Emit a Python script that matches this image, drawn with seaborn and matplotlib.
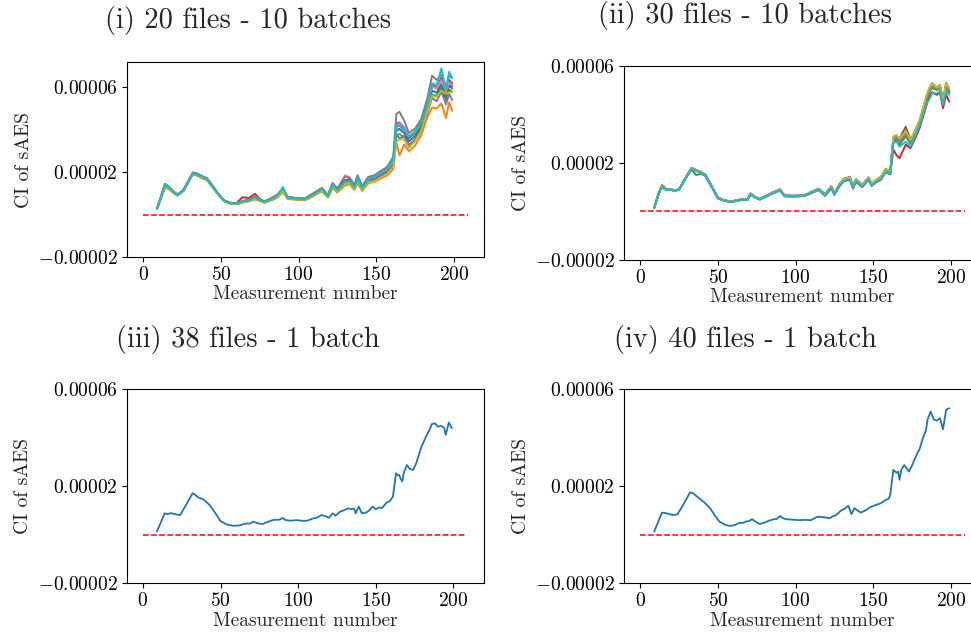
import numpy as np
import pandas as pd
import matplotlib
matplotlib.use("Agg")
import matplotlib.pyplot as plt
import seaborn as sns

SCALE = 1e-5  # values below are in units of 1e-5

# ---------------- data ----------------
titles = ["(i) 20 files - 10 batches", "(ii) 30 files - 10 batches",
          "(iii) 38 files - 1 batch", "(iv) 40 files - 1 batch"]

x_i = [9, 12, 14, 16, 19, 22, 26, 29, 32, 35, 38, 41, 44, 48, 52, 56, 60, 64, 68, 72,
       75, 78, 82, 86, 90, 93, 98, 104, 109, 115, 119, 122, 125, 130, 133, 136, 138, 141,
       145, 149, 153, 157, 161, 163, 165, 168, 171, 175, 179, 183, 186, 189, 192, 195, 197, 199]

panel_i = [
    [0.29, 0.93, 1.38, 1.29, 1.09, 0.91, 1.14, 1.55, 1.94, 1.87, 1.75, 1.67, 1.39, 0.99, 0.65, 0.54, 0.51, 0.61, 0.67, 0.80, 0.69, 0.59, 0.71, 0.85, 1.16, 0.79, 0.75, 0.71, 0.91, 1.19, 0.87, 1.38, 1.13, 1.52, 1.55, 1.26, 1.66, 1.23, 1.62, 1.70, 1.88, 2.02, 2.42, 3.95, 4.05, 3.85, 3.45, 3.70, 4.15, 5.05, 5.85, 5.75, 6.15, 5.55, 6.10, 5.95],
    [0.28, 0.88, 1.25, 1.22, 1.05, 0.90, 1.12, 1.50, 1.90, 1.83, 1.70, 1.62, 1.35, 0.96, 0.63, 0.52, 0.49, 0.57, 0.62, 0.72, 0.64, 0.56, 0.66, 0.78, 1.05, 0.74, 0.70, 0.67, 0.84, 1.10, 0.80, 1.25, 1.04, 1.38, 1.42, 1.16, 1.50, 1.12, 1.48, 1.55, 1.70, 1.85, 2.15, 3.40, 2.80, 3.30, 3.00, 3.25, 3.75, 4.60, 5.05, 5.00, 5.25, 4.55, 5.30, 4.90],
    [0.29, 0.92, 1.30, 1.25, 1.07, 0.91, 1.13, 1.53, 1.93, 1.86, 1.74, 1.66, 1.38, 0.98, 0.64, 0.53, 0.50, 0.59, 0.65, 0.76, 0.67, 0.58, 0.69, 0.82, 1.12, 0.77, 0.73, 0.70, 0.88, 1.15, 0.85, 1.33, 1.10, 1.48, 1.50, 1.22, 1.62, 1.20, 1.58, 1.65, 1.82, 1.98, 2.35, 3.80, 3.60, 3.70, 3.25, 3.55, 4.05, 4.95, 5.65, 5.60, 6.00, 5.40, 5.90, 5.80],
    [0.30, 0.96, 1.42, 1.32, 1.11, 0.93, 1.16, 1.57, 1.96, 1.89, 1.77, 1.69, 1.41, 1.01, 0.67, 0.56, 0.54, 0.82, 0.78, 0.98, 0.74, 0.62, 0.76, 0.92, 1.22, 0.83, 0.79, 0.76, 0.98, 1.25, 0.92, 1.48, 1.22, 1.62, 1.66, 1.36, 1.80, 1.32, 1.75, 1.85, 2.05, 2.18, 2.55, 4.15, 4.25, 4.05, 3.65, 3.90, 4.35, 5.30, 6.10, 6.00, 6.45, 5.85, 6.35, 6.20],
    [0.29, 0.93, 1.36, 1.28, 1.09, 0.92, 1.15, 1.55, 1.95, 1.88, 1.76, 1.68, 1.40, 1.00, 0.66, 0.55, 0.52, 0.62, 0.68, 0.82, 0.70, 0.60, 0.72, 0.86, 1.17, 0.80, 0.76, 0.72, 0.92, 1.20, 0.88, 1.40, 1.14, 1.52, 1.55, 1.25, 1.66, 1.22, 1.60, 1.66, 1.82, 1.95, 2.32, 3.75, 3.80, 3.65, 3.30, 3.50, 3.95, 4.80, 5.50, 5.35, 5.80, 5.20, 5.70, 5.40],
    [0.30, 0.95, 1.40, 1.30, 1.10, 0.92, 1.15, 1.56, 1.96, 1.90, 1.78, 1.70, 1.42, 1.01, 0.66, 0.55, 0.52, 0.63, 0.70, 0.84, 0.71, 0.61, 0.73, 0.88, 1.20, 0.81, 0.77, 0.73, 0.94, 1.22, 0.90, 1.43, 1.17, 1.60, 1.62, 1.30, 1.74, 1.28, 1.68, 1.76, 1.95, 2.10, 2.50, 4.30, 4.35, 4.10, 3.60, 3.85, 4.30, 5.25, 6.05, 5.95, 6.40, 5.75, 6.30, 6.05],
    [0.30, 0.97, 1.44, 1.33, 1.12, 0.94, 1.17, 1.58, 1.98, 1.92, 1.80, 1.71, 1.42, 1.01, 0.66, 0.55, 0.52, 0.63, 0.70, 0.83, 0.71, 0.61, 0.73, 0.88, 1.20, 0.82, 0.77, 0.73, 0.94, 1.22, 0.90, 1.45, 1.20, 1.85, 1.75, 1.35, 1.80, 1.30, 1.70, 1.78, 1.96, 2.12, 2.50, 4.20, 4.30, 4.15, 3.70, 3.90, 4.35, 5.25, 6.05, 5.95, 6.35, 5.80, 6.25, 6.10],
    [0.30, 0.97, 1.45, 1.35, 1.13, 0.94, 1.18, 1.60, 1.99, 1.93, 1.82, 1.72, 1.43, 1.02, 0.67, 0.56, 0.53, 0.63, 0.70, 0.84, 0.72, 0.61, 0.74, 0.89, 1.22, 0.82, 0.78, 0.74, 0.95, 1.24, 0.91, 1.48, 1.22, 1.80, 1.72, 1.38, 1.86, 1.35, 1.78, 1.85, 2.05, 2.25, 2.72, 4.75, 4.85, 4.45, 3.85, 4.05, 4.50, 5.50, 6.55, 6.35, 6.60, 6.00, 6.55, 6.45],
    [0.29, 0.90, 1.30, 1.24, 1.06, 0.90, 1.12, 1.52, 1.92, 1.85, 1.73, 1.65, 1.37, 0.98, 0.64, 0.53, 0.50, 0.58, 0.64, 0.74, 0.66, 0.57, 0.68, 0.80, 1.10, 0.76, 0.72, 0.69, 0.86, 1.12, 0.83, 1.30, 1.08, 1.45, 1.48, 1.20, 1.58, 1.18, 1.52, 1.58, 1.75, 1.92, 2.25, 3.45, 3.55, 3.55, 3.15, 3.45, 3.95, 4.90, 5.60, 5.55, 5.85, 5.70, 5.75, 5.80],
    [0.29, 0.95, 1.42, 1.31, 1.10, 0.92, 1.15, 1.55, 1.95, 1.88, 1.76, 1.68, 1.40, 1.00, 0.65, 0.54, 0.52, 0.62, 0.68, 0.80, 0.70, 0.60, 0.72, 0.86, 1.30, 0.80, 0.76, 0.72, 0.92, 1.20, 0.88, 1.40, 1.15, 1.55, 1.58, 1.28, 1.72, 1.25, 1.68, 1.80, 1.98, 2.15, 2.60, 4.14, 4.20, 3.98, 3.67, 3.90, 4.35, 5.25, 6.20, 6.10, 6.90, 5.90, 6.74, 6.43],
]

x_ii = [9, 12, 14, 17, 20, 22, 25, 29, 33, 36, 39, 42, 46, 50, 54, 58, 62, 66, 69, 71,
        74, 77, 81, 85, 90, 93, 98, 103, 107, 110, 115, 119, 123, 125, 128, 131, 135, 137,
        139, 143, 147, 149, 152, 155, 158, 161, 163, 165, 167, 171, 174, 177, 180, 184, 186,
        188, 191, 193, 195, 197, 199]

panel_ii = [
    [0.15, 0.74, 1.01, 0.88, 0.90, 0.85, 0.90, 1.35, 1.77, 1.68, 1.60, 1.48, 1.02, 0.55, 0.45, 0.40, 0.44, 0.50, 0.48, 0.71, 0.58, 0.50, 0.62, 0.75, 0.87, 0.64, 0.63, 0.64, 0.68, 0.78, 0.91, 0.68, 1.00, 0.72, 1.05, 1.28, 1.36, 1.00, 1.29, 1.05, 1.36, 1.09, 1.25, 1.36, 1.68, 1.57, 2.92, 2.97, 2.78, 3.12, 2.82, 3.22, 3.65, 4.52, 4.90, 5.15, 5.02, 5.12, 4.50, 5.20, 4.90],
    [0.16, 0.80, 1.10, 0.92, 0.92, 0.86, 0.91, 1.36, 1.78, 1.69, 1.61, 1.49, 1.03, 0.56, 0.46, 0.41, 0.45, 0.51, 0.49, 0.73, 0.59, 0.51, 0.63, 0.76, 0.89, 0.65, 0.64, 0.65, 0.69, 0.79, 0.92, 0.69, 1.01, 0.73, 1.06, 1.30, 1.37, 1.01, 1.30, 1.06, 1.37, 1.10, 1.26, 1.37, 1.70, 1.58, 2.95, 3.00, 2.80, 3.15, 2.85, 3.25, 3.68, 4.55, 4.92, 5.15, 5.05, 5.15, 4.50, 5.18, 4.92],
    [0.15, 0.75, 1.02, 0.88, 0.90, 0.85, 0.90, 1.33, 1.72, 1.50, 1.55, 1.46, 1.01, 0.55, 0.45, 0.40, 0.44, 0.50, 0.48, 0.72, 0.58, 0.50, 0.62, 0.75, 0.88, 0.64, 0.63, 0.64, 0.68, 0.78, 0.91, 0.68, 1.00, 0.72, 1.05, 1.29, 1.36, 1.00, 1.29, 1.05, 1.36, 1.09, 1.25, 1.36, 1.68, 1.57, 2.90, 2.95, 2.75, 3.10, 2.80, 3.20, 3.63, 4.50, 4.88, 5.10, 5.00, 5.10, 4.48, 5.15, 4.88],
    [0.15, 0.74, 1.00, 0.87, 0.89, 0.84, 0.89, 1.34, 1.76, 1.67, 1.59, 1.47, 1.01, 0.54, 0.44, 0.39, 0.43, 0.49, 0.47, 0.70, 0.57, 0.49, 0.61, 0.73, 0.86, 0.62, 0.61, 0.62, 0.66, 0.75, 0.88, 0.64, 0.95, 0.68, 1.00, 1.24, 1.30, 0.95, 1.22, 1.00, 1.30, 1.05, 1.20, 1.30, 1.62, 1.52, 2.55, 2.32, 2.19, 2.75, 2.60, 3.00, 3.45, 4.30, 4.70, 4.90, 4.80, 4.90, 4.25, 4.80, 4.52],
    [0.15, 0.76, 1.03, 0.89, 0.91, 0.86, 0.91, 1.36, 1.78, 1.70, 1.62, 1.50, 1.04, 0.56, 0.46, 0.41, 0.45, 0.51, 0.49, 0.73, 0.59, 0.51, 0.64, 0.77, 0.90, 0.65, 0.64, 0.65, 0.69, 0.80, 0.93, 0.70, 1.03, 0.74, 1.08, 1.32, 1.40, 1.03, 1.32, 1.08, 1.40, 1.13, 1.30, 1.42, 1.72, 1.62, 3.00, 3.05, 2.90, 3.30, 2.92, 3.30, 3.75, 4.65, 5.05, 5.28, 5.10, 5.20, 4.55, 5.30, 5.05],
    [0.15, 0.75, 1.02, 0.89, 0.91, 0.86, 0.91, 1.36, 1.79, 1.70, 1.62, 1.51, 1.05, 0.57, 0.46, 0.41, 0.45, 0.51, 0.49, 0.74, 0.59, 0.51, 0.64, 0.77, 0.90, 0.66, 0.65, 0.66, 0.70, 0.80, 0.94, 0.70, 1.04, 0.75, 1.10, 1.34, 1.42, 1.05, 1.33, 1.10, 1.40, 1.14, 1.30, 1.42, 1.75, 1.65, 3.05, 3.10, 3.00, 3.49, 2.95, 3.30, 3.72, 4.60, 5.00, 5.22, 5.08, 5.18, 4.52, 5.25, 5.00],
    [0.15, 0.76, 1.03, 0.90, 0.92, 0.86, 0.92, 1.37, 1.80, 1.71, 1.63, 1.50, 1.04, 0.56, 0.46, 0.41, 0.45, 0.52, 0.50, 0.74, 0.60, 0.52, 0.65, 0.78, 0.92, 0.66, 0.62, 0.66, 0.70, 0.80, 0.92, 0.69, 1.02, 0.73, 1.07, 1.31, 1.38, 1.02, 1.31, 1.07, 1.38, 1.11, 1.28, 1.40, 1.70, 1.60, 2.98, 3.02, 2.85, 3.20, 2.88, 3.25, 3.70, 4.58, 4.95, 5.20, 5.05, 5.15, 4.50, 5.28, 4.95],
    [0.15, 0.75, 1.02, 0.89, 0.90, 0.85, 0.91, 1.36, 1.78, 1.69, 1.61, 1.49, 1.03, 0.56, 0.45, 0.40, 0.44, 0.50, 0.48, 0.73, 0.58, 0.50, 0.63, 0.76, 0.89, 0.65, 0.63, 0.64, 0.68, 0.79, 0.92, 0.69, 1.02, 0.73, 1.06, 1.30, 1.37, 1.01, 1.30, 1.06, 1.37, 1.10, 1.27, 1.38, 1.70, 1.60, 2.95, 3.00, 2.82, 3.18, 2.85, 3.24, 3.68, 4.56, 4.92, 5.18, 5.04, 5.14, 4.50, 5.22, 4.92],
    [0.15, 0.75, 1.02, 0.88, 0.90, 0.85, 0.90, 1.35, 1.77, 1.68, 1.60, 1.48, 1.02, 0.55, 0.45, 0.40, 0.44, 0.50, 0.48, 0.72, 0.58, 0.50, 0.62, 0.75, 0.88, 0.64, 0.63, 0.64, 0.68, 0.79, 0.93, 0.70, 1.04, 0.75, 1.08, 1.33, 1.40, 1.04, 1.33, 1.08, 1.40, 1.14, 1.31, 1.44, 1.76, 1.65, 3.08, 3.15, 3.01, 3.30, 2.94, 3.32, 3.78, 4.70, 5.05, 5.25, 5.10, 5.22, 4.55, 5.28, 5.05],
    [0.15, 0.75, 1.01, 0.88, 0.89, 0.84, 0.90, 1.34, 1.76, 1.67, 1.59, 1.47, 1.01, 0.54, 0.44, 0.39, 0.43, 0.49, 0.47, 0.70, 0.57, 0.49, 0.61, 0.74, 0.86, 0.63, 0.62, 0.63, 0.67, 0.77, 0.90, 0.66, 0.98, 0.70, 1.03, 1.26, 1.33, 0.98, 1.26, 1.02, 1.33, 1.06, 1.22, 1.33, 1.64, 1.54, 2.81, 2.87, 2.67, 2.87, 2.67, 3.10, 3.55, 4.40, 4.59, 4.86, 4.86, 4.95, 4.40, 4.93, 4.80],
]

x_iii = [9, 14, 16, 18, 21, 24, 28, 32, 34, 36, 38, 40, 43, 46, 50, 54, 58, 62, 66, 69,
         71, 74, 77, 80, 84, 88, 90, 92, 95, 99, 103, 106, 109, 112, 115, 118, 120, 122,
         124, 127, 130, 132, 134, 136, 137, 139, 141, 144, 146, 148, 150, 152, 154, 157,
         159, 161, 163, 164, 165, 166, 167, 168, 170, 172, 174, 176, 179, 182, 185, 186,
         188, 190, 192, 194, 195, 197, 199]
y_iii = [0.13, 0.88, 0.85, 0.89, 0.84, 0.81, 1.25, 1.71, 1.62, 1.52, 1.48, 1.40, 1.22, 0.95,
         0.56, 0.42, 0.37, 0.38, 0.46, 0.46, 0.54, 0.47, 0.44, 0.52, 0.61, 0.62, 0.69, 0.60,
         0.58, 0.60, 0.57, 0.58, 0.66, 0.70, 0.81, 0.75, 0.70, 0.88, 0.78, 0.95, 1.02, 1.09,
         1.05, 1.08, 0.88, 1.16, 0.88, 0.92, 1.02, 1.16, 1.05, 1.12, 1.10, 1.33, 1.38, 1.57,
         2.53, 2.45, 2.46, 2.30, 2.19, 2.55, 2.87, 2.70, 2.67, 2.94, 3.56, 4.00, 4.38, 4.55,
         4.59, 4.45, 4.48, 4.40, 4.11, 4.62, 4.38]

x_iv = [9, 14, 17, 21, 24, 27, 30, 32, 34, 36, 38, 41, 45, 48, 51, 55, 58, 61, 64, 66,
        68, 70, 72, 74, 77, 80, 83, 86, 88, 90, 92, 94, 98, 102, 106, 110, 114, 118, 122,
        124, 126, 129, 132, 134, 136, 138, 142, 145, 148, 152, 155, 158, 160, 161, 163, 165,
        166, 167, 168, 170, 172, 173, 175, 177, 180, 182, 184, 185, 187, 189, 191, 193, 195,
        197, 199]
y_iv = [0.13, 0.91, 0.88, 0.81, 0.84, 1.16, 1.50, 1.74, 1.71, 1.60, 1.50, 1.35, 1.09, 0.80,
        0.54, 0.40, 0.36, 0.40, 0.50, 0.48, 0.54, 0.56, 0.64, 0.55, 0.44, 0.50, 0.58, 0.64,
        0.65, 0.77, 0.68, 0.64, 0.62, 0.60, 0.61, 0.60, 0.74, 0.72, 0.68, 0.76, 0.80, 0.98,
        1.09, 1.19, 0.85, 1.09, 0.91, 1.00, 1.13, 1.23, 1.30, 1.43, 1.48, 1.64, 2.67, 2.55,
        2.60, 2.26, 2.65, 2.87, 2.70, 2.60, 2.85, 3.15, 3.55, 3.97, 4.30, 4.73, 5.07, 4.75,
        4.70, 4.80, 4.34, 5.14, 5.21]

ref_x = [0, 209]       # reference (zero) line span
ref_y = [0.0, 0.0]

yticks = [-2e-5, 2e-5, 6e-5]
ytick_labels = [r"$-0.00002$", r"$0.00002$", r"$0.00006$"]
xticks = [0, 50, 100, 150, 200]
xtick_labels = [r"$0$", r"$50$", r"$100$", r"$150$", r"$200$"]

# ---------------- style ----------------
sns.set_theme(style="ticks")
plt.rcParams.update({
    "font.family": ["cmr10", "DejaVu Serif"],
    "mathtext.fontset": "cm",
    "axes.formatter.use_mathtext": True,
    "axes.edgecolor": "black",
    "axes.linewidth": 0.8,
    "xtick.color": "black",
    "ytick.color": "black",
    "xtick.major.size": 3.5,
    "ytick.major.size": 3.5,
    "xtick.major.width": 0.8,
    "ytick.major.width": 0.8,
    "axes.unicode_minus": False,
})

fig = plt.figure(figsize=(9.71, 6.39), dpi=100)
W, H = 971.0, 639.0
# axes boxes in pixels: left, top, width, height
boxes = [(127.0, 62.0, 357.0, 195.0), (624.0, 65.7, 357.0, 194.3),
         (126.7, 389.0, 357.0, 194.3), (624.0, 389.0, 357.0, 194.3)]
title_pos = [(248.5, 27.7), (745.0, 23.5), (248.0, 346.7), (745.6, 346.5)]
ylims = [(-2e-5, 7.2e-5), (-2e-5, 6e-5), (-2e-5, 6e-5), (-2e-5, 6e-5)]
lws = [1.4, 1.4, 1.3, 1.3]

def long_frame(xs, series_list):
    rows = []
    for k, ys in enumerate(series_list):
        for xv, yv in zip(xs, ys):
            rows.append((xv, yv * SCALE, k))
    return pd.DataFrame(rows, columns=["x", "y", "series"])

frames = [long_frame(x_i, panel_i), long_frame(x_ii, panel_ii),
          long_frame(x_iii, [y_iii]), long_frame(x_iv, [y_iv])]

palette = sns.color_palette("tab10", 10)

for idx in range(4):
    l, t, w, h = boxes[idx]
    ax = fig.add_axes([l / W, 1 - (t + h) / H, w / W, h / H])
    df = frames[idx]
    n = df["series"].nunique()
    sns.lineplot(data=df, x="x", y="y", hue="series", palette=palette[:n],
                 legend=False, ax=ax, linewidth=lws[idx], estimator=None, sort=False)
    ax.plot(ref_x, [v * SCALE for v in ref_y], color="red", linestyle="--", linewidth=1.1)
    ax.set_ylim(*ylims[idx])
    ax.set_yticks(yticks)
    ax.set_yticklabels(ytick_labels)
    ax.set_xticks(xticks)
    ax.set_xticklabels(xtick_labels)
    ax.tick_params(labelsize=14, pad=3)
    ax.set_xlabel("Measurement number", fontsize=14, labelpad=1)
    ax.set_ylabel("CI of sAES", fontsize=14, labelpad=4)
    tx, ty = title_pos[idx]
    fig.text(tx / W, 1 - ty / H, titles[idx], fontsize=20.5, ha="center", va="baseline")

fig.savefig("out.png", dpi=100)
